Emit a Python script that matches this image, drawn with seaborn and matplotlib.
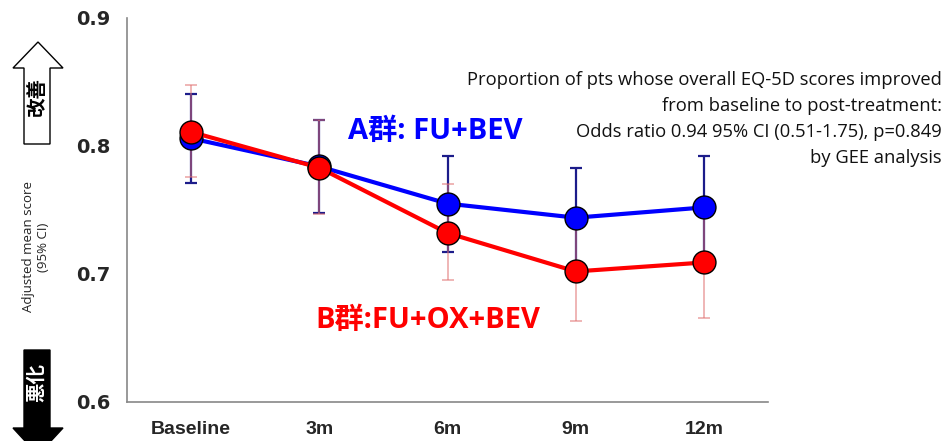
import matplotlib
matplotlib.use("Agg")
import matplotlib.pyplot as plt
import seaborn as sns
import pandas as pd
import numpy as np
from matplotlib.patches import Polygon

categories = ["Baseline", "3m", "6m", "9m", "12m"]
a_mean = [0.806, 0.784, 0.755, 0.744, 0.752]
a_low = [0.771, 0.748, 0.717, 0.705, 0.712]
a_high = [0.841, 0.820, 0.792, 0.783, 0.792]
b_mean = [0.811, 0.783, 0.732, 0.702, 0.709]
b_low = [0.776, 0.747, 0.695, 0.663, 0.666]
b_high = [0.848, 0.820, 0.770, 0.742, 0.752]
group_names = ["A群: FU+BEV", "B群:FU+OX+BEV"]
note_lines = ["Proportion of pts whose overall EQ-5D scores improved",
              "from baseline to post-treatment:",
              "Odds ratio 0.94 95% CI (0.51-1.75), p=0.849",
              "by GEE analysis"]

sns.set_theme(style="white")
plt.rcParams['font.family'] = ['Open Sans', 'Noto Sans CJK JP', 'DejaVu Sans']

fig = plt.figure(figsize=(9.49, 4.41), dpi=100)
ax = fig.add_axes([127/949, 39/441, (768-127)/949, (402-18)/441])

pos = np.arange(len(categories))
df = pd.DataFrame({
    "pos": np.concatenate([pos, pos]),
    "score": a_mean + b_mean,
    "group": [group_names[0]] * 5 + [group_names[1]] * 5,
})

# error bars
ax.errorbar(pos, a_mean, yerr=[np.array(a_mean) - np.array(a_low), np.array(a_high) - np.array(a_mean)],
            fmt='none', ecolor='#1c1c8a', elinewidth=1.6, capsize=4, capthick=1.6, zorder=2)
ax.errorbar(pos, b_mean, yerr=[np.array(b_mean) - np.array(b_low), np.array(b_high) - np.array(b_mean)],
            fmt='none', ecolor='#e07070', elinewidth=1.2, capsize=4, capthick=1.2, alpha=0.6, zorder=2)

sns.lineplot(data=df, x="pos", y="score", hue="group", palette=["#0000ff", "#ff0000"],
             marker="o", markersize=16.5, markeredgecolor="black", markeredgewidth=1.0,
             linewidth=3, legend=False, ax=ax, zorder=3)

ax.set_xlim(-0.5, 4.5)
ax.set_ylim(0.6, 0.9)
ax.set_yticks([0.6, 0.7, 0.8, 0.9])
ax.set_yticklabels(["0.6", "0.7", "0.8", "0.9"], fontsize=14, fontweight='heavy', family='DejaVu Sans')
ax.set_xticks(np.arange(-0.5, 5, 1))
ax.set_xticklabels([])
ax.set_xticks(pos, minor=True)
ax.set_xticklabels(categories, minor=True, fontsize=14, fontweight='bold',
                   family=['Liberation Sans Narrow', 'Liberation Sans'])
ax.tick_params(axis='x', which='minor', length=0, pad=14)
ax.tick_params(axis='x', which='major', direction='in', length=6, color='#888888', width=0.8)
ax.tick_params(axis='y', direction='in', length=6, color='#888888', width=0.8, pad=12)
ax.set_xlabel("")
ax.set_ylabel("")
for s in ['top', 'right']:
    ax.spines[s].set_visible(False)
for s in ['left', 'bottom']:
    ax.spines[s].set_color('#888888')
    ax.spines[s].set_linewidth(1.2)

# group labels
ax.text(1.22, 0.811, group_names[0], color='#0000ff', fontsize=21, fontweight='bold',
        family=['Open Sans', 'Noto Sans CJK JP'], va='center', ha='left')
ax.text(0.97, 0.664, group_names[1], color='#ff0000', fontsize=21, fontweight='bold',
        family=['Open Sans', 'Noto Sans CJK JP'], va='center', ha='left')

# annotation, one line per text
for i, line in enumerate(note_lines):
    fig.text(942/949, 1 - (80 + 26 * i)/441, line, ha='right', va='center', fontsize=13.2,
             family='Open Sans', color='#111111')

# y label
fig.text(36/949, 1 - 247/441, "Adjusted mean score\n(95% CI)", rotation=90, ha='center', va='center',
         fontsize=9.5, family='Open Sans', color='#222222')

# arrows in pixel coords
def px(x, y):
    return (x / 949, 1 - y / 441)

up = [px(24, 144), px(24, 68), px(13, 68), px(38, 42), px(63, 68), px(50, 68), px(50, 144)]
fig.patches.append(Polygon(up, closed=True, transform=fig.transFigure, facecolor='white',
                           edgecolor='black', linewidth=1.0, figure=fig))
down = [px(24, 350), px(50, 350), px(50, 428), px(63, 428), px(38, 455), px(13, 428), px(24, 428)]
fig.patches.append(Polygon(down, closed=True, transform=fig.transFigure, facecolor='black',
                           edgecolor='black', linewidth=1.0, figure=fig))
fig.text(*px(37, 97), "改善", rotation=90, ha='center', va='center', fontsize=14,
         fontweight='bold', family='Noto Sans CJK JP', color='black')
fig.text(*px(37, 382), "悪化", rotation=90, ha='center', va='center', fontsize=14,
         fontweight='bold', family='Noto Sans CJK JP', color='white')

fig.savefig("out.png", dpi=100)
